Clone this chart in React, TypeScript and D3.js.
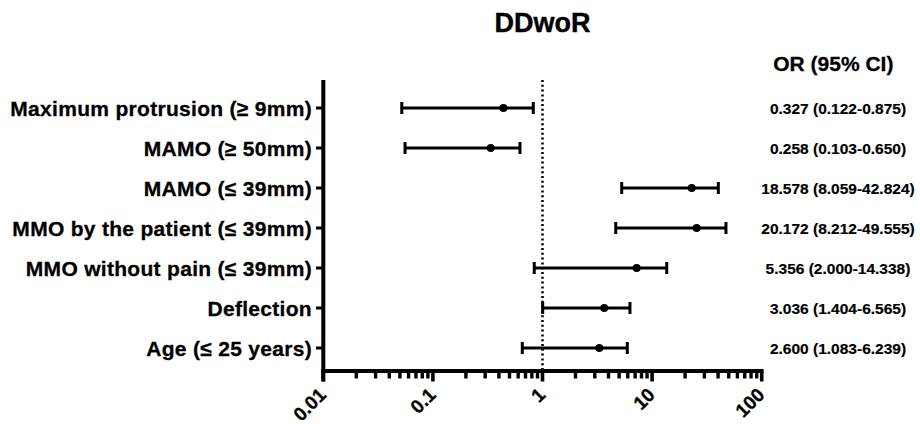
import React from "react";
import * as d3 from "d3";

const categories = [
  "Maximum protrusion (≥ 9mm)",
  "MAMO (≥ 50mm)",
  "MAMO (≤ 39mm)",
  "MMO by the patient (≤ 39mm)",
  "MMO without pain (≤ 39mm)",
  "Deflection",
  "Age (≤ 25 years)",
];
const orPoint = [0.44, 0.337, 22.97, 25.5, 7.23, 3.66, 3.3];
const ciLow = [0.052, 0.0557, 5.28, 4.66, 0.841, 1.004, 0.654];
const ciHigh = [0.824, 0.623, 40.2, 47.2, 13.6, 6.28, 5.94];
const orLabels = [
  "0.327 (0.122-0.875)",
  "0.258 (0.103-0.650)",
  "18.578 (8.059-42.824)",
  "20.172 (8.212-49.555)",
  "5.356 (2.000-14.338)",
  "3.036 (1.404-6.565)",
  "2.600 (1.083-6.239)",
];
const majorTicks = [0.01, 0.1, 1, 10, 100];
const tickLabels = ["0.01", "0.1", "1", "10", "100"];
const title = "DDwoR";
const columnHeader = "OR (95% CI)";

const FONT = "'Liberation Sans', Arial, Helvetica, sans-serif";

export default function App() {
  const x = d3.scaleLog().domain([0.01, 100]).range([323.3, 761.7]);
  const y = d3.scaleBand<string>().domain(categories).range([88, 368]);
  const yc = (c: string) => (y(c) as number) + y.bandwidth() / 2;
  const axisY = 371;
  const allTicks = x.ticks();
  const isMajor = (t: number) => majorTicks.some((m) => Math.abs(m - t) / m < 1e-6);

  return (
    <svg
      width={920}
      height={424}
      style={{ position: "absolute", left: 0, top: 0, background: "#fff" }}
      fontFamily={FONT}
      fontWeight="bold"
    >
      <text x={542.5} y={32} textAnchor="middle" fontSize={27} stroke="#000" strokeWidth={0.4}>
        {title}
      </text>
      <text x={833.3} y={71} textAnchor="middle" fontSize={21} stroke="#000" strokeWidth={0.3}>
        {columnHeader}
      </text>

      {/* reference line at OR = 1 */}
      <line
        x1={x(1)}
        x2={x(1)}
        y1={80}
        y2={axisY - 2}
        stroke="#000"
        strokeWidth={2.6}
        strokeDasharray="2 2.8"
      />

      {/* y axis */}
      <line x1={x(0.01)} x2={x(0.01)} y1={80} y2={381.5} stroke="#000" strokeWidth={4} />
      {categories.map((c) => (
        <g key={c}>
          <line x1={316} x2={322} y1={yc(c)} y2={yc(c)} stroke="#000" strokeWidth={3} />
          <text
            x={312}
            y={yc(c)}
            dy="0.36em"
            textAnchor="end"
            fontSize={21}
            letterSpacing={0.3}
            stroke="#000"
            strokeWidth={0.3}
          >
            {c}
          </text>
        </g>
      ))}

      {/* x axis */}
      <line x1={321.3} x2={763.5} y1={axisY} y2={axisY} stroke="#000" strokeWidth={4} />
      {allTicks.map((t, i) => (
        <line
          key={i}
          x1={x(t)}
          x2={x(t)}
          y1={axisY}
          y2={isMajor(t) ? 381.5 : 378.5}
          stroke="#000"
          strokeWidth={isMajor(t) ? 3.6 : 3.4}
        />
      ))}
      {majorTicks.map((t, i) => (
        <text
          key={t}
          transform={`translate(${x(t) + 4},${396}) rotate(-45)`}
          textAnchor="end"
          fontSize={19}
          stroke="#000"
          strokeWidth={0.3}
        >
          {tickLabels[i]}
        </text>
      ))}

      {/* error bars */}
      {categories.map((c, i) => {
        const cy = yc(c);
        return (
          <g key={"e" + c}>
            <line x1={x(ciLow[i])} x2={x(ciHigh[i])} y1={cy} y2={cy} stroke="#000" strokeWidth={3} />
            <line x1={x(ciLow[i])} x2={x(ciLow[i])} y1={cy - 6} y2={cy + 6} stroke="#000" strokeWidth={3} />
            <line x1={x(ciHigh[i])} x2={x(ciHigh[i])} y1={cy - 6} y2={cy + 6} stroke="#000" strokeWidth={3} />
            <circle cx={x(orPoint[i])} cy={cy} r={4} fill="#000" />
          </g>
        );
      })}

      {/* OR column */}
      {categories.map((c, i) => (
        <text
          key={"o" + c}
          x={838}
          y={yc(c)}
          dy="0.36em"
          textAnchor="middle"
          fontSize={15.5}
          stroke="#000"
          strokeWidth={0.2}
        >
          {orLabels[i]}
        </text>
      ))}
    </svg>
  );
}
